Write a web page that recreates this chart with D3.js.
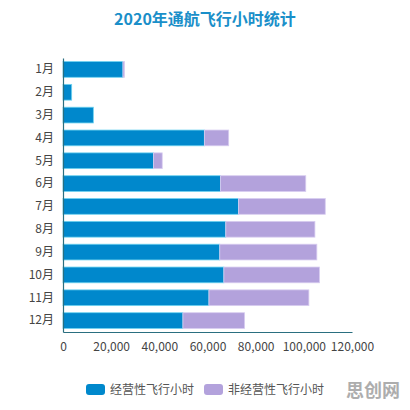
<!DOCTYPE html>
<html>
<head>
<meta charset="utf-8">
<script src="https://cdn.jsdelivr.net/npm/d3@7"></script>
<style>
  body { margin: 0; background: #fff; }
  text { font-family: "Noto Sans CJK SC", "Noto Sans", sans-serif; }
</style>
</head>
<body>
<div id="container"></div>
<script>
// data
const months = ["1月","2月","3月","4月","5月","6月","7月","8月","9月","10月","11月","12月"];
const operating    = [24900, 3600, 12600, 58700, 37600, 65400, 72900, 67600, 65100, 66800, 60600, 49800];
const nonOperating = [600, 0, 0, 10100, 3600, 35400, 36000, 37000, 40300, 39700, 41500, 25600];
const seriesNames = ["经营性飞行小时", "非经营性飞行小时"];
const xTicks = [0, 20000, 40000, 60000, 80000, 100000, 120000];

const colors = ["#0088cc", "#b3a2dc"];

const W = 410, H = 410;
const margin = {top: 58, right: 58, bottom: 78, left: 63};

const svg = d3.select("#container")
  .append("svg")
    .attr("width", W)
    .attr("height", H);

// title
svg.append("text")
  .attr("x", 205).attr("y", 25)
  .attr("text-anchor", "middle")
  .style("font-size", "16px")
  .style("font-weight", "bold")
  .style("fill", "#1a8fc9")
  .text("2020年通航飞行小时统计");

const x = d3.scaleLinear()
  .domain([0, 120000])
  .range([margin.left, W - margin.right]);

const y = d3.scaleBand()
  .domain(months)
  .range([margin.top, H - margin.bottom])
  .paddingInner(0.31)
  .paddingOuter(0.155);

const rows = months.map((m, i) => ({month: m, values: [operating[i], nonOperating[i]]}));
const stack = d3.stack().keys([0, 1]).value((d, k) => d.values[k]);
const layers = stack(rows);

svg.selectAll("g.layer")
  .data(layers)
  .join("g")
    .attr("class", "layer")
    .attr("fill", (d, i) => colors[i])
    .attr("stroke", (d, i) => i === 0 ? "#6fd3f0" : "#d8cdf0")
    .attr("stroke-width", 0.8)
  .selectAll("rect")
  .data(d => d.filter(s => s[1] > s[0]))
  .join("rect")
    .attr("x", d => x(d[0]))
    .attr("y", d => y(d.data.month))
    .attr("width", d => x(d[1]) - x(d[0]))
    .attr("height", y.bandwidth());

// x axis
const xAxis = svg.append("g")
  .attr("transform", `translate(0,${H - margin.bottom})`)
  .call(d3.axisBottom(x).tickValues(xTicks).tickSize(0).tickPadding(10)
    .tickFormat(d3.format(",")));
xAxis.select(".domain").attr("stroke", "#2a6f80").attr("stroke-width", 1.2);
xAxis.selectAll("text").style("font-size", "12px").style("fill", "#444");

// y axis
const yAxis = svg.append("g")
  .attr("transform", `translate(${margin.left},0)`)
  .call(d3.axisLeft(y).tickSize(0).tickPadding(9));
yAxis.select(".domain").attr("stroke", "#2a6f80").attr("stroke-width", 1.2);
yAxis.selectAll("text").style("font-size", "12px").style("fill", "#444");

// legend
const legendX = [86, 204];
const legend = svg.selectAll("g.legend")
  .data(seriesNames)
  .join("g")
    .attr("class", "legend")
    .attr("transform", (d, i) => `translate(${legendX[i]},384)`);
legend.append("rect")
  .attr("width", 19).attr("height", 11)
  .attr("rx", 3)
  .attr("fill", (d, i) => colors[i]);
legend.append("text")
  .attr("x", 24).attr("y", 10)
  .style("font-size", "12px")
  .style("fill", "#555")
  .text(d => d);

// watermark
svg.append("text")
  .attr("x", 373).attr("y", 397)
  .attr("text-anchor", "middle")
  .style("font-size", "18px")
  .style("font-weight", "bold")
  .style("fill", "#999")
  .style("opacity", 0.8)
  .text("思创网");
</script>
</body>
</html>
